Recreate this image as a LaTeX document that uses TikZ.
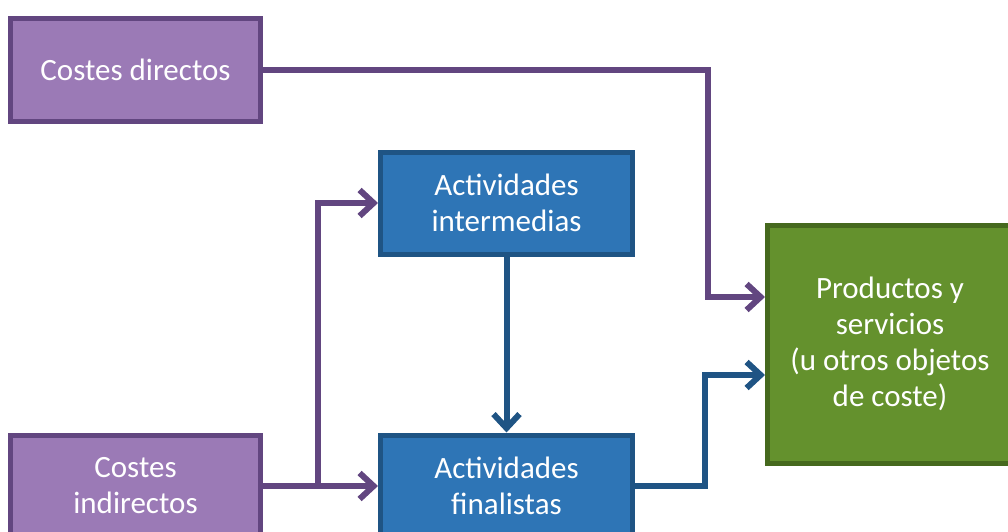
\documentclass[tikz,border=0pt]{standalone}
\usepackage{fontspec}
\setmainfont{Carlito}
\usepackage{xcolor}
\definecolor{mypurple}{RGB}{155,122,182}
\definecolor{mypurpledark}{RGB}{98,70,128}
\definecolor{myblue}{RGB}{46,117,182}
\definecolor{mybluedark}{RGB}{31,84,132}
\definecolor{mygreen}{RGB}{100,145,45}
\definecolor{mygreendark}{RGB}{70,105,30}
\usetikzlibrary{arrows.meta}

\begin{document}
\begin{tikzpicture}[x=1pt,y=-1pt,line width=5pt,line join=miter]
	\tikzstyle{caja}=[rectangle,draw,text=white,align=center,font=\fontsize{31}{36}\selectfont,inner sep=0pt];
	\tikzstyle{coste}=[caja,fill=mypurple,draw=mypurpledark,minimum width=250pt,minimum height=102pt];
	\tikzstyle{activ}=[caja,fill=myblue,draw=mybluedark,minimum width=252pt,minimum height=102pt];
	\tikzstyle{flecha}=[line width=6pt,-{Straight Barb[length=14pt,width=26pt]}];
	\useasboundingbox (0,0) rectangle (1008,532);
	\clip (0,0) rectangle (1008,532);
	\node[coste] (directos) at (135.5,70) {Costes directos};
	\node[coste] (indirectos) at (135.5,486) {Costes\\indirectos};
	\node[activ] (intermedias) at (506.5,203) {Actividades\\intermedias};
	\node[activ] (finalistas) at (506.5,486) {Actividades\\finalistas};
	\node[caja,fill=mygreen,draw=mygreendark,minimum width=245pt,minimum height=238pt] (productos) at (890,344) {Productos y\\servicios\\(u otros objetos\\de coste)};
	\coordinate (codo1) at (708,70);
	\coordinate (reparto) at (318,486);
	\coordinate (codo2) at (705,486);
	\draw[flecha,mypurpledark] (directos.east) -- (codo1) |- ([yshift=47pt]productos.west);
	\draw[flecha,mypurpledark] (indirectos.east) -- (finalistas.west);
	\draw[flecha,mypurpledark] (reparto) |- (intermedias.west);
	\draw[flecha,mybluedark] (intermedias.south) -- (finalistas.north);
	\draw[flecha,mybluedark] (finalistas.east) -- (codo2) |- ([yshift=-31pt]productos.west);
\end{tikzpicture}
\end{document}
